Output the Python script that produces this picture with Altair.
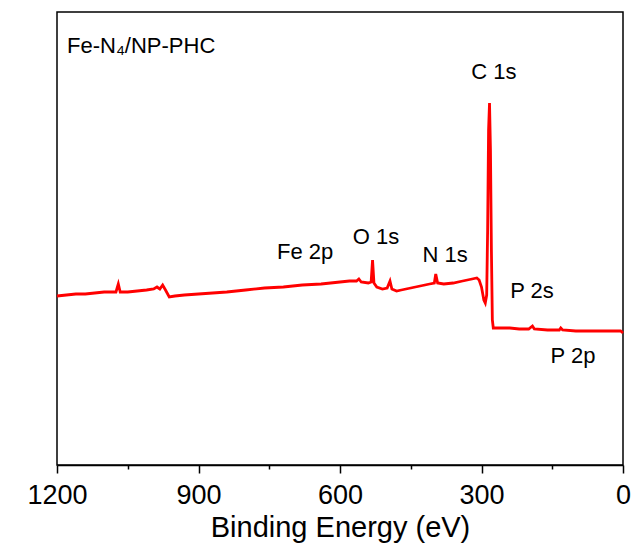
import altair as alt
import pandas as pd

# Survey spectrum (binding energy in eV, intensity in arbitrary units)
energy = [1200, 1180, 1160, 1140, 1120, 1100, 1085, 1075, 1070, 1066, 1050, 1030, 1010,
          995, 988, 982, 976, 970, 962, 950, 930, 900, 870, 840, 800, 760, 720, 680,
          640, 600, 580, 565, 560, 555, 540, 534, 531, 528, 522, 510, 500, 494, 490,
          480, 470, 450, 430, 410, 400, 397, 393, 380, 360, 340, 320, 310, 305, 300,
          295, 292, 289, 287, 285, 283, 281, 279, 277, 275, 260, 240, 220, 200, 192,
          188, 160, 135, 132, 128, 100, 60, 20, 5, 0]
intensity = [169, 170, 171, 171, 172, 173, 173, 173, 181, 173, 173, 174, 175,
             176, 178, 176, 180, 175, 168, 169, 170, 171, 172, 173, 175, 177, 178, 180,
             181, 183, 184, 184, 186, 183, 182, 183, 205, 182, 178, 176, 177, 184, 176,
             174, 175, 177, 179, 181, 182, 191, 182, 181, 182, 184, 186, 187, 185, 178,
             165, 162, 170, 235, 335, 362, 315, 215, 145, 137, 137, 137, 136, 136, 139,
             136, 135, 135, 137, 135, 134, 134, 134, 134, 132]

major_ticks = [1200, 900, 600, 300, 0]
minor_ticks = [1050, 750, 450, 150]

peak_labels = ["C 1s", "Fe 2p", "O 1s", "N 1s", "P 2s", "P 2p"]
peak_label_ev = [273.6, 674, 523.7, 377, 193, 106]
peak_label_int = [386, 206, 221, 203, 167, 102]

sample_name = ["Fe-N₄/NP-PHC"]
sample_ev = [1178.8]
sample_int = [412]

FONT = "Liberation Sans"

spec_df = pd.DataFrame({"eV": energy, "I": intensity})
lab_df = pd.DataFrame({"eV": peak_label_ev, "I": peak_label_int, "t": peak_labels})
name_df = pd.DataFrame({"eV": sample_ev, "I": sample_int, "t": sample_name})
minor_df = pd.DataFrame({"eV": minor_ticks, "I": [0] * len(minor_ticks)})

xscale = alt.Scale(domain=[0, 1200], reverse=True, nice=False, zero=False)
yscale = alt.Scale(domain=[0, 453], nice=False, zero=False)

main_axis = alt.Axis(
    values=major_ticks, format="d", tickSize=8, tickWidth=1.5, tickColor="black",
    domainColor="black", domainWidth=1.5, labelFontSize=27, labelFont=FONT,
    labelColor="black", labelPadding=9, labelFlush=False, labelOverlap=False,
    grid=False, title="Binding Energy (eV)", titleFont=FONT, titleFontSize=29,
    titleFontWeight="normal", titleColor="black", titleX=283, titleY=71,
    titleAlign="center", titleBaseline="alphabetic", orient="bottom",
)
y_axis = alt.Axis(
    labels=False, ticks=False, grid=False, domainColor="black", domainWidth=1.5,
    title="Intensity (a.u.)", titleFont=FONT, titleFontSize=27,
    titleFontWeight="normal", titleColor="black", titleX=-25, titleY=208,
    titleAlign="center", titleBaseline="alphabetic", titleAngle=270,
)

line = alt.Chart(spec_df).mark_line(color="#ff0000", strokeWidth=2.8).encode(
    x=alt.X("eV:Q", scale=xscale, axis=main_axis),
    y=alt.Y("I:Q", scale=yscale, axis=y_axis),
)

minor = alt.Chart(minor_df).mark_point(opacity=0).encode(
    x=alt.X("eV:Q", scale=xscale, axis=alt.Axis(
        values=minor_ticks, labels=False, domain=False, tickSize=4, tickWidth=1.5,
        tickColor="black", grid=False, title=None, orient="bottom")),
    y=alt.Y("I:Q", scale=yscale, axis=None),
)

labels = alt.Chart(lab_df).mark_text(
    font=FONT, fontSize=22, color="black", align="center", baseline="alphabetic"
).encode(
    x=alt.X("eV:Q", scale=xscale, axis=None),
    y=alt.Y("I:Q", scale=yscale, axis=None),
    text="t:N",
)

name = alt.Chart(name_df).mark_text(
    font=FONT, fontSize=22, color="black", align="left", baseline="alphabetic"
).encode(
    x=alt.X("eV:Q", scale=xscale, axis=None),
    y=alt.Y("I:Q", scale=yscale, axis=None),
    text="t:N",
)

chart = (
    alt.layer(line, minor, labels, name)
    .resolve_axis(x="independent")
    .properties(
        width=566, height=453,
        autosize=alt.AutoSizeParams(type="none"),
        padding={"left": 57, "top": 12, "right": 12, "bottom": 82},
        background="white",
    )
    .configure_view(stroke="black", strokeWidth=1.5)
)

chart.save("out.html", embed_options={"renderer": "svg", "actions": False})
